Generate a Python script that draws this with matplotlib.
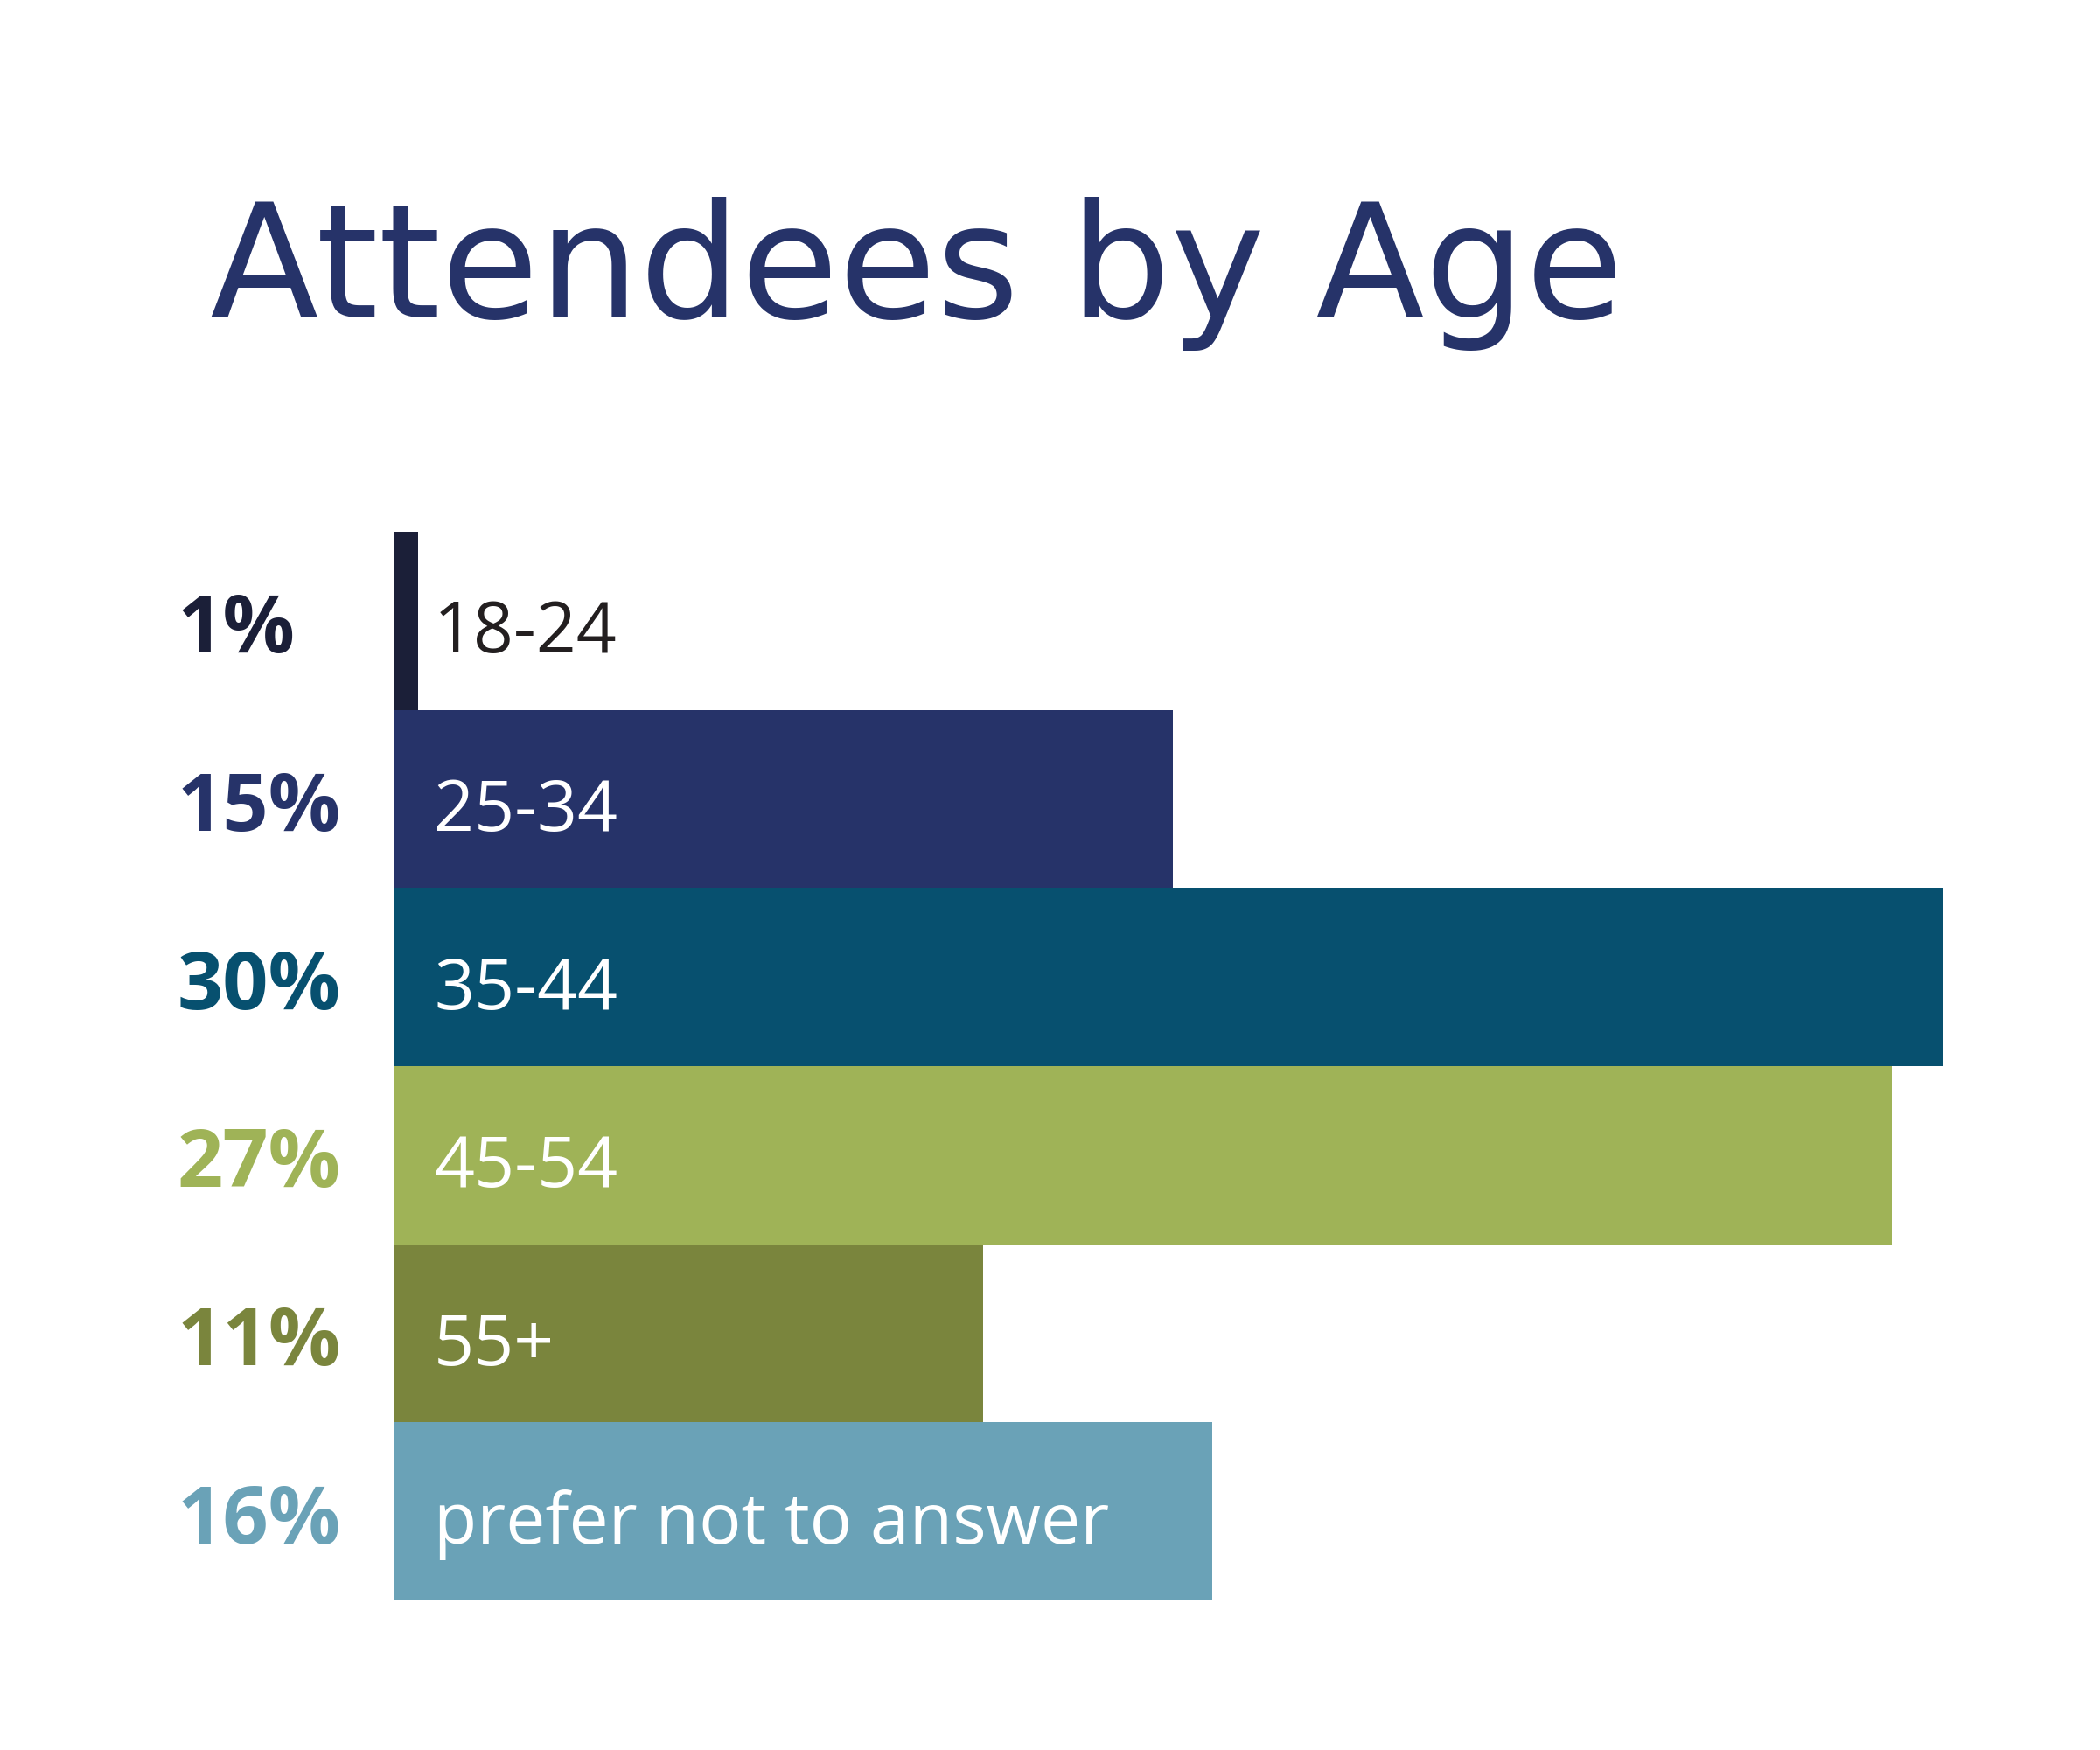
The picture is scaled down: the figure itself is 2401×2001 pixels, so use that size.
import matplotlib
matplotlib.use("Agg")
import matplotlib.pyplot as plt
import matplotlib.transforms as mtransforms

# dados
faixas = ["18-24", "25-34", "35-44", "45-54", "55+", "prefer not to answer"]
rotulos_pct = ["1%", "15%", "30%", "27%", "11%", "16%"]
# comprimentos das barras (estimados a partir da figura)
valores = [0.46, 15.08, 30.0, 29.0, 11.4, 15.84]
cores = ["#1b1f38", "#263369", "#07506f", "#9fb357", "#7a853d", "#6aa2b7"]
cores_texto = ["#231f20", "white", "white", "white", "white", "white"]

W, H = 2401, 2001
fig = plt.figure(figsize=(W / 100, H / 100), dpi=100)
fig.patch.set_facecolor("white")

# eixo posicionado em pixels
ax = fig.add_axes([451 / W, 1 - 1830 / H, 1771 / W, 1222 / H])
y = list(range(len(faixas)))
ax.barh(y, valores, height=1.0, color=cores, align="center")
ax.set_xlim(0, 30)
ax.set_ylim(len(faixas) - 0.5, -0.5)
ax.axis("off")

trans = mtransforms.blended_transform_factory(fig.transFigure, ax.transData)
for i in y:
    ax.text(203 / W, i + 0.18, rotulos_pct[i], transform=trans, color=cores[i],
            fontsize=66, fontweight="bold", family="Open Sans",
            ha="left", va="baseline", clip_on=False)
    ax.text(496 / W, i + 0.18, faixas[i], transform=trans, color=cores_texto[i],
            fontsize=58, family="Open Sans", ha="left", va="baseline", clip_on=False)

fig.text(240 / W, 1 - 363 / H, "Attendees by Age", color="#263369",
         fontsize=131, family="DejaVu Sans", fontweight="normal",
         ha="left", va="baseline")

fig.savefig("out.png", dpi=100, facecolor="white")
